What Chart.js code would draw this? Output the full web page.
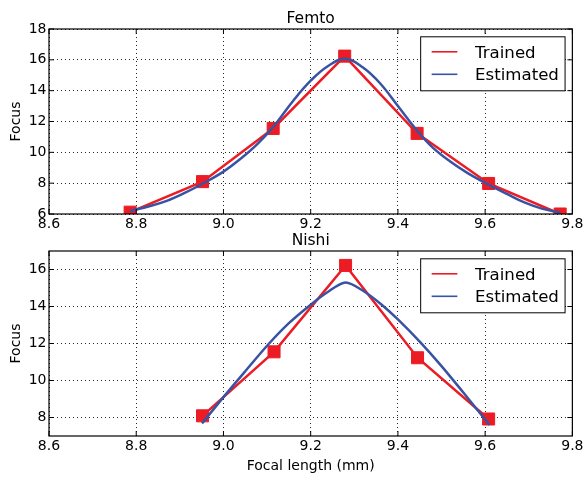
<!DOCTYPE html>
<html lang="en">
<head>
<meta charset="UTF-8">
<title>Femto / Nishi focus</title>
<script src="https://cdn.jsdelivr.net/npm/chart.js"></script>
<style>
    body { margin: 0; background: #fff; }
    #wrap { position: relative; width: 585px; height: 478px; }
    #wrap canvas { position: absolute; left: 0; top: 0; }
</style>
</head>
<body>
<div id="wrap">
    <canvas id="femto" width="585" height="478"></canvas>
    <canvas id="nishi" width="585" height="478"></canvas>
</div>
<script>
const xTicks = [8.6, 8.8, 9.0, 9.2, 9.4, 9.6, 9.8];
const femtoYTicks = [6, 8, 10, 12, 14, 16, 18];
const nishiYTicks = [8, 10, 12, 14, 16];

// Femto, trained points and estimated curve
const femtoTrainedX = [8.786, 8.952, 9.114, 9.278, 9.444, 9.608, 9.772];
const femtoTrainedY = [6.12, 8.1, 11.55, 16.24, 11.23, 7.98, 6.0];
const femtoEstX = [8.786, 8.83, 8.87, 8.91, 8.953, 9.0, 9.04, 9.08, 9.114, 9.16, 9.2, 9.24, 9.28,
                   9.32, 9.36, 9.4, 9.444, 9.48, 9.52, 9.56, 9.608, 9.65, 9.69, 9.73, 9.772];
const femtoEstY = [6.2, 6.5, 6.85, 7.35, 7.98, 8.75, 9.6, 10.6, 11.65, 13.35, 14.65, 15.6, 16.07,
                   15.5, 14.45, 13.0, 11.4, 10.3, 9.4, 8.65, 7.9, 7.3, 6.75, 6.35, 6.08];

// Nishi
const nishiTrainedX = [8.952, 9.116, 9.28, 9.445, 9.608];
const nishiTrainedY = [8.09, 11.55, 16.22, 11.23, 7.92];
const nishiEstX = [8.951, 9.0, 9.05, 9.1, 9.15, 9.2, 9.24, 9.28, 9.32, 9.36, 9.4, 9.45, 9.5, 9.55, 9.61];
const nishiEstY = [7.68, 9.1, 10.5, 11.88, 13.1, 14.1, 14.8, 15.3, 14.85, 14.15, 13.3, 12.1, 10.78, 9.35, 7.6];

const RED = '#ec1c24';
const BLUE = '#3853a4';
const FONT = '"DejaVu Sans", sans-serif';

function pts(xs, ys) {
    return xs.map((x, i) => ({ x: x, y: ys[i] }));
}

// frame, inward ticks, title and legend box like the matplotlib original
const frame = {
    id: 'frame',
    afterDatasetsDraw(chart, args, opts) {
        const { ctx, chartArea: a, scales: { x, y } } = chart;
        ctx.save();
        ctx.strokeStyle = '#000';
        ctx.lineWidth = 1.2;
        ctx.strokeRect(a.left, a.top, a.right - a.left, a.bottom - a.top);

        ctx.lineWidth = 1;
        ctx.beginPath();
        x.ticks.forEach(t => {
            const px = x.getPixelForValue(t.value);
            ctx.moveTo(px, a.bottom); ctx.lineTo(px, a.bottom - 5);
            ctx.moveTo(px, a.top); ctx.lineTo(px, a.top + 5);
        });
        y.ticks.forEach(t => {
            const py = y.getPixelForValue(t.value);
            ctx.moveTo(a.left, py); ctx.lineTo(a.left + 5, py);
            ctx.moveTo(a.right, py); ctx.lineTo(a.right - 5, py);
        });
        ctx.stroke();

        // title
        ctx.fillStyle = '#000';
        ctx.font = '15.5px ' + FONT;
        ctx.textAlign = 'center';
        ctx.textBaseline = 'alphabetic';
        ctx.fillText(opts.title, (a.left + a.right) / 2, a.top - 6.3);

        // legend
        const bw = 144.4, bh = 54;
        const bx = a.right - 7.3 - bw;
        const by = a.top + 7.8;
        ctx.fillStyle = '#fff';
        ctx.fillRect(bx, by, bw, bh);
        ctx.lineWidth = 1;
        ctx.strokeStyle = '#000';
        ctx.strokeRect(bx, by, bw, bh);
        ctx.font = '16.6px ' + FONT;
        ctx.textAlign = 'left';
        chart.data.datasets.forEach((ds, i) => {
            const ly = by + 15 + i * 22.5;
            ctx.strokeStyle = ds.borderColor;
            ctx.lineWidth = 1.6;
            ctx.beginPath();
            ctx.moveTo(bx + 11, ly);
            ctx.lineTo(bx + 36.7, ly);
            ctx.stroke();
            ctx.fillStyle = '#000';
            ctx.fillText(ds.label, bx + 54.4, ly + 5.8);
        });
        ctx.restore();
    }
};

function makeChart(id, title, trainedX, trainedY, estX, estY, yMin, yMax, yTicks, pad, xHeight, xTitle, estTension) {
    return new Chart(document.getElementById(id), {
        type: 'line',
        data: {
            datasets: [{
                label: 'Trained',
                data: pts(trainedX, trainedY),
                borderColor: RED,
                backgroundColor: RED,
                borderWidth: 2.5,
                tension: 0,
                pointStyle: 'rect',
                pointRadius: 8.5,
                pointBorderWidth: 1,
                pointBackgroundColor: RED,
                pointBorderColor: RED,
                order: 2
            }, {
                label: 'Estimated',
                data: pts(estX, estY),
                borderColor: BLUE,
                backgroundColor: BLUE,
                borderWidth: 2.5,
                tension: estTension,
                pointRadius: 0,
                order: 1
            }]
        },
        options: {
            responsive: false,
            animation: false,
            devicePixelRatio: 1,
            layout: { padding: pad },
            plugins: {
                legend: { display: false },
                tooltip: { enabled: false },
                frame: { title: title }
            },
            scales: {
                x: {
                    type: 'linear',
                    min: 8.6,
                    max: 9.8,
                    afterBuildTicks: s => { s.ticks = xTicks.map(v => ({ value: v })); },
                    afterFit: s => { s.height = xHeight; },
                    grid: { color: 'rgba(0,0,0,0.85)', lineWidth: 1, drawTicks: false },
                    border: { display: false, dash: [1, 3] },
                    ticks: {
                        autoSkip: false,
                        maxRotation: 0,
                        padding: 1.5,
                        color: '#000',
                        font: { family: FONT, size: 14 },
                        callback: v => v.toFixed(1)
                    },
                    title: {
                        display: !!xTitle,
                        text: xTitle || '',
                        color: '#000',
                        font: { family: FONT, size: 14 },
                        padding: { top: 0, bottom: 3.5 }
                    }
                },
                y: {
                    min: yMin,
                    max: yMax,
                    afterBuildTicks: s => { s.ticks = yTicks.map(v => ({ value: v })); },
                    afterFit: s => { s.width = 49; },
                    grid: { color: 'rgba(0,0,0,0.85)', lineWidth: 1, drawTicks: false },
                    border: { display: false, dash: [1, 3] },
                    ticks: {
                        padding: 2.5,
                        color: '#000',
                        font: { family: FONT, size: 14 },
                        callback: v => String(v)
                    },
                    title: {
                        display: true,
                        text: 'Focus',
                        color: '#000',
                        font: { family: FONT, size: 14 },
                        padding: { top: 7.5, bottom: 0 }
                    }
                }
            }
        },
        plugins: [frame]
    });
}

makeChart('femto', 'Femto', femtoTrainedX, femtoTrainedY, femtoEstX, femtoEstY,
    6, 18, femtoYTicks, { top: 29, right: 11, bottom: 246, left: 0 }, 18, null, 0.4);
makeChart('nishi', 'Nishi', nishiTrainedX, nishiTrainedY, nishiEstX, nishiEstY,
    7, 17, nishiYTicks, { top: 251, right: 11, bottom: 0, left: 0 }, 42, 'Focal length (mm)', 0.3);
</script>
</body>
</html>
